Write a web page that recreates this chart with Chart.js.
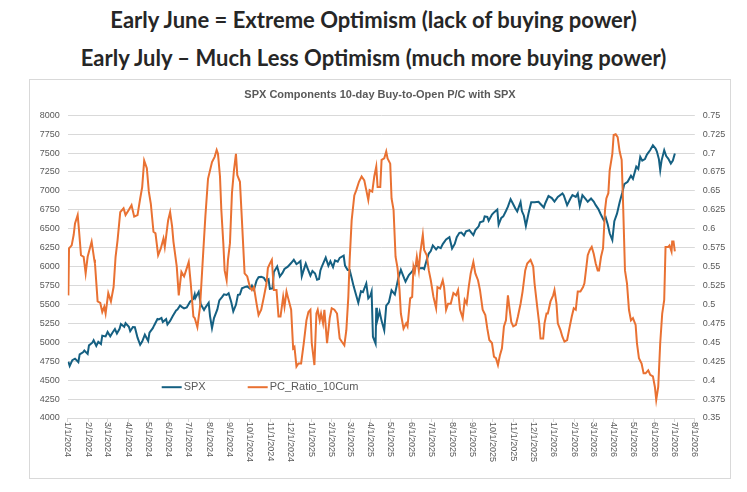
<!DOCTYPE html>
<html>
<head>
<meta charset="utf-8">
<script src="https://cdn.jsdelivr.net/npm/chart.js@4.4.1/dist/chart.umd.min.js"></script>
<style>
  body { margin: 0; background: #fff; width: 747px; height: 492px; position: relative; overflow: hidden; font-family: Lato, sans-serif; }
  .headline { position: absolute; left: 0; width: 747px; text-align: center; font-size: 22px; font-weight: 700; color: #262626; line-height: 26px; }
  #box { position: absolute; left: 29px; top: 79px; width: 700px; height: 398px; border: 1px solid #d9d9d9; }
</style>
</head>
<body>
<div class="headline" style="top:7px">Early June = Extreme Optimism (lack of buying power)</div>
<div class="headline" style="top:45px">Early July – Much Less Optimism (much more buying power)</div>
<div id="box"><canvas id="chart" width="700" height="398"></canvas></div>
<script>
// x axis month labels
const monthLabels = [
  '1/1/2024','2/1/2024','3/1/2024','4/1/2024','5/1/2024','6/1/2024','7/1/2024','8/1/2024',
  '9/1/2024','10/1/2024','11/1/2024','12/1/2024','1/1/2025','2/1/2025','3/1/2025','4/1/2025',
  '5/1/2025','6/1/2025','7/1/2025','8/1/2025','9/1/2025','10/1/2025','11/1/2025','12/1/2025',
  '1/1/2026','2/1/2026','3/1/2026','4/1/2026','5/1/2026','6/1/2026','7/1/2026','8/1/2026'
];

// SPX (left axis)
const spxDates = [
  '2024-01-02','2024-01-04','2024-01-08','2024-01-12','2024-01-17','2024-01-19','2024-01-24','2024-01-26','2024-01-31',
  '2024-02-02','2024-02-07','2024-02-09','2024-02-13','2024-02-16','2024-02-20','2024-02-22','2024-02-27',
  '2024-03-01','2024-03-05','2024-03-08','2024-03-12','2024-03-15','2024-03-19','2024-03-21','2024-03-26','2024-03-28',
  '2024-04-02','2024-04-04','2024-04-08','2024-04-11','2024-04-15','2024-04-19','2024-04-22','2024-04-26',
  '2024-05-01','2024-05-03','2024-05-08','2024-05-10','2024-05-15','2024-05-17','2024-05-21','2024-05-23','2024-05-28','2024-05-30',
  '2024-06-03','2024-06-07','2024-06-12','2024-06-14','2024-06-18','2024-06-21','2024-06-24','2024-06-28',
  '2024-07-03','2024-07-08','2024-07-10','2024-07-11','2024-07-16','2024-07-19','2024-07-24','2024-07-26','2024-07-31',
  '2024-08-02','2024-08-05','2024-08-08','2024-08-13','2024-08-16','2024-08-20','2024-08-23','2024-08-27','2024-08-30',
  '2024-09-03','2024-09-06','2024-09-10','2024-09-13','2024-09-16','2024-09-19','2024-09-24','2024-09-27',
  '2024-10-01','2024-10-04','2024-10-07','2024-10-11','2024-10-14','2024-10-18','2024-10-22','2024-10-25','2024-10-29','2024-10-31',
  '2024-11-04','2024-11-06','2024-11-11','2024-11-15','2024-11-19','2024-11-22','2024-11-27',
  '2024-12-02','2024-12-06','2024-12-10','2024-12-13','2024-12-16','2024-12-18','2024-12-20','2024-12-24','2024-12-27','2024-12-31',
  '2025-01-03','2025-01-07','2025-01-10','2025-01-13','2025-01-15','2025-01-17','2025-01-23','2025-01-27','2025-01-30',
  '2025-02-03','2025-02-06','2025-02-10','2025-02-13','2025-02-19','2025-02-21','2025-02-25','2025-02-28',
  '2025-03-03','2025-03-06','2025-03-10','2025-03-13','2025-03-17','2025-03-20','2025-03-25','2025-03-28','2025-03-31',
  '2025-04-02','2025-04-04','2025-04-08','2025-04-09','2025-04-10','2025-04-14','2025-04-17','2025-04-21','2025-04-24','2025-04-28',
  '2025-05-02','2025-05-07','2025-05-12','2025-05-16','2025-05-21','2025-05-23','2025-05-28',
  '2025-06-02','2025-06-06','2025-06-11','2025-06-13','2025-06-18','2025-06-20','2025-06-24','2025-06-27','2025-06-30',
  '2025-07-03','2025-07-08','2025-07-11','2025-07-15','2025-07-18','2025-07-23','2025-07-28',
  '2025-08-01','2025-08-05','2025-08-08','2025-08-12','2025-08-15','2025-08-19','2025-08-22','2025-08-27','2025-08-29',
  '2025-09-02','2025-09-05','2025-09-10','2025-09-12','2025-09-17','2025-09-19','2025-09-23','2025-09-25','2025-09-30',
  '2025-10-03','2025-10-08','2025-10-10','2025-10-14','2025-10-17','2025-10-21','2025-10-24','2025-10-28','2025-10-31',
  '2025-11-04','2025-11-07','2025-11-12','2025-11-14','2025-11-17','2025-11-20','2025-11-24','2025-11-28',
  '2025-12-03','2025-12-09','2025-12-12','2025-12-17','2025-12-19','2025-12-24','2025-12-29',
  '2026-01-02','2026-01-07','2026-01-14','2026-01-16','2026-01-21','2026-01-26','2026-01-29',
  '2026-02-03','2026-02-06','2026-02-09','2026-02-13','2026-02-18','2026-02-21','2026-02-26',
  '2026-03-02','2026-03-05','2026-03-09','2026-03-12','2026-03-17','2026-03-20','2026-03-23','2026-03-26','2026-03-30',
  '2026-04-02','2026-04-06','2026-04-10','2026-04-14','2026-04-17','2026-04-22','2026-04-27','2026-04-30',
  '2026-05-05','2026-05-08','2026-05-11','2026-05-14','2026-05-18','2026-05-21','2026-05-26','2026-05-30',
  '2026-06-03','2026-06-05','2026-06-08','2026-06-10','2026-06-12','2026-06-16','2026-06-19','2026-06-22','2026-06-26','2026-06-29',
  '2026-07-02'
];
const spxValues = [
  4743,4688,4764,4784,4739,4840,4868,4891,4846,
  4959,4995,5027,4953,5006,4976,5087,5078,
  5137,5079,5124,5175,5117,5178,5241,5204,5254,
  5205,5147,5202,5199,5061,4967,5010,5100,
  5018,5128,5187,5223,5308,5303,5321,5268,5306,5235,
  5283,5347,5421,5432,5487,5465,5448,5460,
  5537,5572,5633,5585,5667,5505,5427,5459,5522,
  5346,5186,5319,5434,5554,5597,5634,5625,5648,
  5529,5408,5495,5626,5633,5713,5732,5738,
  5709,5751,5696,5815,5859,5864,5851,5808,5832,5705,
  5712,5929,6001,5870,5917,5969,5999,
  6047,6090,6034,6051,6074,5872,5930,6040,5971,5882,
  5942,5909,5827,5836,5950,5997,6119,6012,6071,
  5994,6083,6066,6115,6144,6013,5955,5955,
  5850,5739,5615,5522,5675,5663,5777,5581,5612,
  5671,5074,4982,5457,5268,5406,5283,5158,5485,5529,
  5687,5631,5844,5958,5845,5803,5889,
  5936,6000,6022,5977,5981,5968,6092,6173,6205,
  6279,6226,6260,6244,6297,6359,6389,
  6238,6299,6389,6446,6450,6411,6467,6481,6460,
  6416,6482,6532,6584,6600,6664,6656,6605,6688,
  6716,6753,6553,6644,6664,6735,6792,6890,6840,
  6771,6729,6851,6734,6672,6538,6705,6849,
  6850,6856,6827,6780,6834,6932,6905,
  6858,6920,6966,6940,6812,6900,6944,
  6920,6966,6800,6944,6890,6856,6900,
  6860,6812,6760,6702,6614,6650,6560,6440,6350,
  6600,6700,6850,6980,7090,7120,7200,7160,
  7320,7290,7450,7400,7420,7480,7540,7604,
  7560,7520,7420,7274,7400,7538,7460,7428,7362,7400,
  7494
];

// PC_Ratio_10Cum (right axis)
const pcDates = [
  '2024-01-02','2024-01-03','2024-01-07','2024-01-10','2024-01-12','2024-01-16','2024-01-18','2024-01-21','2024-01-25','2024-01-28','2024-01-31',
  '2024-02-06','2024-02-10','2024-02-11','2024-02-15','2024-02-19','2024-02-22','2024-02-25','2024-02-27',
  '2024-03-02','2024-03-06','2024-03-10','2024-03-13','2024-03-16','2024-03-20','2024-03-25','2024-03-28',
  '2024-04-02','2024-04-06','2024-04-10','2024-04-15','2024-04-19','2024-04-22','2024-04-25','2024-04-29',
  '2024-05-02','2024-05-05','2024-05-09','2024-05-12','2024-05-16','2024-05-20','2024-05-24','2024-05-26','2024-05-31',
  '2024-06-03','2024-06-06','2024-06-08','2024-06-13','2024-06-16','2024-06-20','2024-06-24','2024-06-27',
  '2024-07-01','2024-07-04','2024-07-08','2024-07-10','2024-07-14','2024-07-18','2024-07-23','2024-07-26','2024-07-30',
  '2024-08-05','2024-08-09','2024-08-12','2024-08-14','2024-08-17','2024-08-19','2024-08-22','2024-08-24','2024-08-27','2024-08-29',
  '2024-09-01','2024-09-04','2024-09-07','2024-09-10','2024-09-12','2024-09-16','2024-09-19','2024-09-23','2024-09-27',
  '2024-10-01','2024-10-04','2024-10-07','2024-10-11','2024-10-14','2024-10-18','2024-10-22','2024-10-26','2024-10-28','2024-10-31',
  '2024-11-03','2024-11-06','2024-11-10','2024-11-13','2024-11-16','2024-11-20','2024-11-22','2024-11-25','2024-11-27',
  '2024-12-02','2024-12-05','2024-12-07','2024-12-10','2024-12-13','2024-12-17','2024-12-21','2024-12-25','2024-12-28','2024-12-31',
  '2025-01-02','2025-01-06','2025-01-09','2025-01-11','2025-01-14','2025-01-16','2025-01-19','2025-01-21','2025-01-25','2025-01-29',
  '2025-02-01','2025-02-05','2025-02-09','2025-02-13','2025-02-16','2025-02-20','2025-02-23','2025-02-26','2025-02-28',
  '2025-03-03','2025-03-07','2025-03-10','2025-03-14','2025-03-18','2025-03-22','2025-03-25','2025-03-28','2025-03-30',
  '2025-04-03','2025-04-06','2025-04-09','2025-04-11','2025-04-15','2025-04-17','2025-04-21','2025-04-24','2025-04-26','2025-04-30',
  '2025-05-02','2025-05-05','2025-05-08','2025-05-11','2025-05-14','2025-05-16','2025-05-20','2025-05-24','2025-05-26','2025-05-30',
  '2025-06-02','2025-06-04','2025-06-06','2025-06-09','2025-06-12','2025-06-14','2025-06-18','2025-06-20','2025-06-24','2025-06-27','2025-06-30',
  '2025-07-04','2025-07-08','2025-07-10','2025-07-14','2025-07-18','2025-07-20','2025-07-23','2025-07-26','2025-07-30',
  '2025-08-03','2025-08-07','2025-08-10','2025-08-13','2025-08-17','2025-08-20','2025-08-23','2025-08-26','2025-08-29',
  '2025-09-02','2025-09-05','2025-09-09','2025-09-12','2025-09-16','2025-09-20','2025-09-23','2025-09-26','2025-09-30',
  '2025-10-03','2025-10-06','2025-10-09','2025-10-12','2025-10-15','2025-10-18','2025-10-21','2025-10-24','2025-10-26','2025-10-29',
  '2025-11-01','2025-11-05','2025-11-08','2025-11-12','2025-11-15','2025-11-19','2025-11-22','2025-11-27',
  '2025-12-01','2025-12-03','2025-12-07','2025-12-10','2025-12-12','2025-12-16','2025-12-18','2025-12-21','2025-12-23','2025-12-27','2025-12-31',
  '2026-01-02','2026-01-05','2026-01-07','2026-01-11','2026-01-14','2026-01-17','2026-01-21','2026-01-25','2026-01-28','2026-01-31',
  '2026-02-03','2026-02-06','2026-02-10','2026-02-14','2026-02-16','2026-02-19','2026-02-21','2026-02-24','2026-02-27',
  '2026-03-02','2026-03-05','2026-03-08','2026-03-10','2026-03-13','2026-03-16','2026-03-19','2026-03-21','2026-03-24','2026-03-26','2026-03-30',
  '2026-04-01','2026-04-04','2026-04-07','2026-04-10','2026-04-13','2026-04-15','2026-04-18','2026-04-21','2026-04-24','2026-04-27','2026-04-30',
  '2026-05-04','2026-05-06','2026-05-09','2026-05-13','2026-05-16','2026-05-19','2026-05-23','2026-05-26','2026-05-30',
  '2026-06-02','2026-06-04','2026-06-07','2026-06-10','2026-06-13','2026-06-16','2026-06-18','2026-06-22','2026-06-24','2026-06-27','2026-06-28','2026-06-30',
  '2026-07-02'
];
const pcValues = [
  0.512,0.574,0.578,0.592,0.607,0.618,0.598,0.565,0.563,0.541,0.563,
  0.583,0.559,0.554,0.504,0.502,0.490,0.497,0.488,
  0.515,0.504,0.523,0.563,0.585,0.622,0.627,0.618,
  0.625,0.631,0.616,0.618,0.640,0.655,0.690,0.680,
  0.649,0.633,0.596,0.594,0.565,0.574,0.587,0.576,0.611,
  0.622,0.603,0.583,0.550,0.512,0.543,0.537,0.545,
  0.556,0.528,0.484,0.482,0.470,0.497,0.572,0.616,0.666,
  0.688,0.695,0.704,0.699,0.669,0.625,0.581,0.545,0.532,0.559,
  0.581,0.647,0.677,0.699,0.671,0.662,0.611,0.541,0.537,
  0.523,0.519,0.523,0.501,0.486,0.493,0.510,0.528,0.548,0.554,
  0.559,0.519,0.519,0.484,0.484,0.510,0.497,0.517,0.510,
  0.493,0.442,0.444,0.418,0.422,0.422,0.449,0.479,0.490,0.493,
  0.449,0.420,0.488,0.493,0.479,0.488,0.475,0.493,0.449,0.482,
  0.495,0.493,0.488,0.455,0.451,0.446,0.466,0.510,0.559,
  0.611,0.644,0.651,0.662,0.669,0.664,0.651,0.638,0.651,
  0.649,0.669,0.682,0.655,0.655,0.691,0.693,0.702,0.693,0.686,
  0.640,0.625,0.563,0.548,0.519,0.488,0.468,0.475,0.471,0.508,
  0.510,0.550,0.543,0.563,0.545,0.567,0.592,0.572,0.565,0.545,0.532,
  0.510,0.495,0.523,0.521,0.532,0.523,0.493,0.501,0.501,
  0.515,0.512,0.519,0.493,0.482,0.506,0.501,0.523,0.541,
  0.556,0.541,0.532,0.519,0.493,0.486,0.468,0.453,0.449,
  0.431,0.429,0.420,0.433,0.442,0.471,0.479,0.512,0.497,0.477,
  0.471,0.473,0.484,0.501,0.517,0.545,0.554,0.559,
  0.550,0.528,0.497,0.475,0.455,0.455,0.475,0.488,0.488,0.504,0.512,
  0.519,0.501,0.475,0.466,0.457,0.451,0.453,0.471,0.484,0.495,
  0.493,0.517,0.517,0.523,0.528,0.550,0.565,0.572,0.576,
  0.567,0.554,0.545,0.545,0.563,0.574,0.625,0.640,0.647,0.677,0.699,
  0.724,0.725,0.721,0.702,0.691,0.638,0.545,0.528,0.493,0.479,0.482,
  0.473,0.449,0.429,0.422,0.409,0.409,0.413,0.407,0.405,
  0.391,0.374,0.391,0.449,0.488,0.506,0.576,0.576,0.578,0.570,0.583,0.583,
  0.570
];

const DAY = 86400000;
const ORIGIN = Date.UTC(2024, 0, 1);
function isoDay(s) {
  const [y, m, d] = s.split('-').map(Number);
  return (Date.UTC(y, m - 1, d) - ORIGIN) / DAY;
}
function labelDay(s) {
  const [m, d, y] = s.split('/').map(Number);
  return (Date.UTC(y, m - 1, d) - ORIGIN) / DAY;
}

if (spxDates.length !== spxValues.length) console.error('spx length mismatch', spxDates.length, spxValues.length);
if (pcDates.length !== pcValues.length) console.error('pc length mismatch', pcDates.length, pcValues.length);

const spxPoints = spxDates.map((d, i) => ({ x: isoDay(d), y: spxValues[i] }));
const pcPoints = pcDates.map((d, i) => ({ x: isoDay(d), y: pcValues[i] }));

const TICK_COLOR = '#595959';
const GRID_COLOR = '#d9d9d9';
Chart.defaults.font.family = '"Liberation Sans", Arial, sans-serif';

// draws the rotated month labels and the legend inside the plot
const extras = {
  id: 'extras',
  afterDraw(chart) {
    const ctx = chart.ctx;
    const xs = chart.scales.x;
    const area = chart.chartArea;
    ctx.save();
    ctx.fillStyle = TICK_COLOR;
    ctx.font = '9px "Liberation Sans", Arial, sans-serif';
    ctx.textAlign = 'left';
    ctx.textBaseline = 'middle';
    monthLabels.forEach(label => {
      const px = xs.getPixelForValue(labelDay(label));
      ctx.save();
      ctx.translate(px, area.bottom + 4);
      ctx.rotate(Math.PI / 2);
      ctx.fillText(label, 0, 0);
      ctx.restore();
    });

    const ly = area.top + 272;
    const items = [
      { ds: chart.data.datasets[1], x: area.left + 94 },
      { ds: chart.data.datasets[0], x: area.left + 180 }
    ];
    ctx.font = '11px "Liberation Sans", Arial, sans-serif';
    items.forEach(it => {
      ctx.strokeStyle = it.ds.borderColor;
      ctx.lineWidth = 2;
      ctx.beginPath();
      ctx.moveTo(it.x, ly);
      ctx.lineTo(it.x + 20, ly);
      ctx.stroke();
      ctx.fillStyle = TICK_COLOR;
      ctx.fillText(it.ds.label, it.x + 22, ly);
    });
    ctx.restore();
  }
};

new Chart(document.getElementById('chart'), {
  type: 'line',
  data: {
    datasets: [
      {
        label: 'PC_Ratio_10Cum',
        data: pcPoints,
        yAxisID: 'y1',
        borderColor: '#E97132',
        borderWidth: 2,
        pointRadius: 0,
        tension: 0,
        order: 0
      },
      {
        label: 'SPX',
        data: spxPoints,
        yAxisID: 'y',
        borderColor: '#156082',
        borderWidth: 2,
        pointRadius: 0,
        tension: 0,
        order: 1
      }
    ]
  },
  options: {
    responsive: false,
    animation: false,
    devicePixelRatio: 1,
    layout: { padding: 0 },
    plugins: {
      legend: { display: false },
      tooltip: { enabled: false },
      title: {
        display: true,
        text: 'SPX Components 10-day Buy-to-Open P/C with SPX',
        color: TICK_COLOR,
        font: { size: 11, weight: 'bold' },
        padding: { top: 8, bottom: 14 }
      }
    },
    scales: {
      x: {
        type: 'linear',
        min: labelDay(monthLabels[0]),
        max: labelDay(monthLabels[monthLabels.length - 1]),
        afterBuildTicks(scale) {
          scale.ticks = monthLabels.map(l => ({ value: labelDay(l) }));
        },
        afterFit(scale) { scale.height = 60; },
        ticks: { display: false },
        grid: { drawOnChartArea: false, drawTicks: true, tickLength: 4, color: GRID_COLOR },
        border: { color: GRID_COLOR }
      },
      y: {
        position: 'left',
        min: 4000,
        max: 8000,
        afterFit(scale) { scale.width = 37.7; },
        ticks: { stepSize: 250, color: TICK_COLOR, font: { size: 9 }, padding: 8, callback: v => String(v) },
        grid: { color: GRID_COLOR, drawTicks: false },
        border: { display: false }
      },
      y1: {
        position: 'right',
        min: 0.35,
        max: 0.75,
        afterFit(scale) { scale.width = 35.2; },
        ticks: { stepSize: 0.025, color: TICK_COLOR, font: { size: 9 }, padding: 8, callback: v => String(+v.toFixed(3)) },
        grid: { drawOnChartArea: false, drawTicks: false },
        border: { display: false }
      }
    }
  },
  plugins: [extras]
});
</script>
</body>
</html>
